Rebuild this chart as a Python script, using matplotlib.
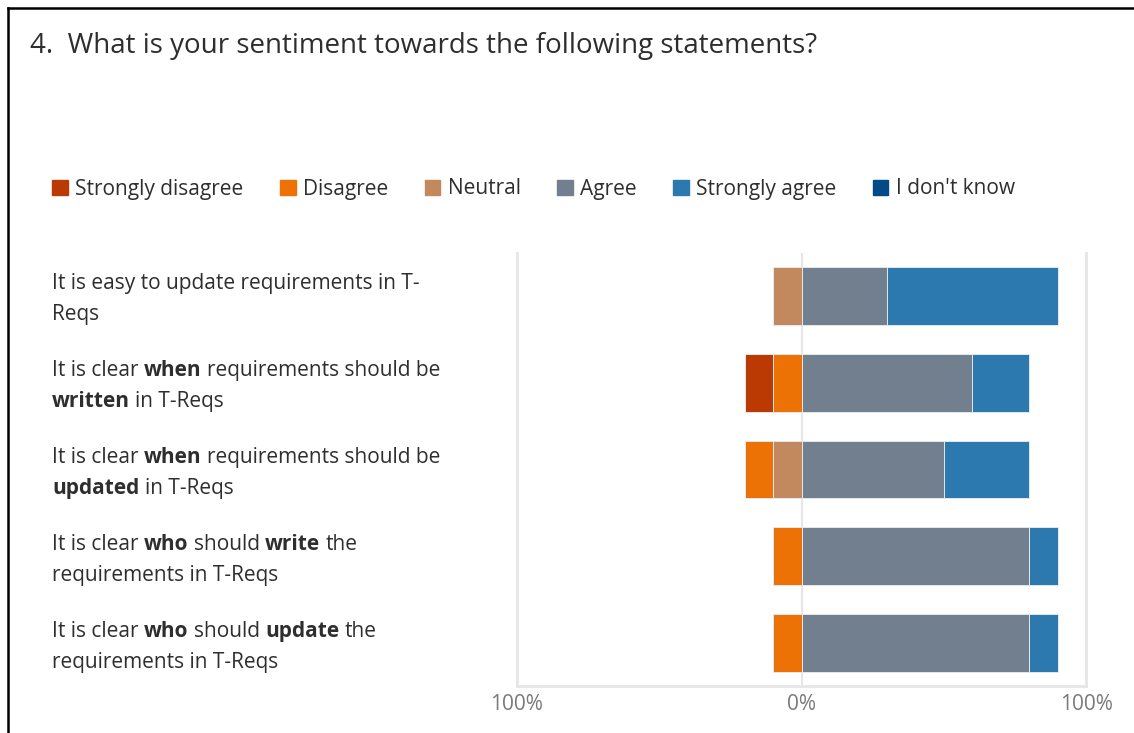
import numpy as np
import matplotlib.pyplot as plt
import matplotlib.transforms as mtransforms
from matplotlib.patches import Rectangle
from matplotlib.lines import Line2D

plt.rcParams['font.family'] = ['Open Sans', 'DejaVu Sans']

W, H = 1134, 733
TXT = '#2e2e2e'

categories = ['Strongly disagree', 'Disagree', 'Neutral', 'Agree',
              'Strongly agree', "I don't know"]
colors = ['#BB3A03', '#ED7205', '#C2895E', '#717F8E', '#2C79B0', '#044A87']

# share of answers per statement (%)
strongly_disagree = [0, 10, 0, 0, 0]
disagree = [0, 10, 10, 10, 10]
neutral = [10, 0, 10, 0, 0]
agree = [30, 60, 50, 80, 80]
strongly_agree = [60, 20, 30, 10, 10]
dont_know = [0, 0, 0, 0, 0]

# statement labels: two lines each, (text, bold) pieces
statements = [
    [[('It is easy to update requirements in T-', False)],
     [('Reqs', False)]],
    [[('It is clear ', False), ('when', True), (' requirements should be', False)],
     [('written', True), (' in T-Reqs', False)]],
    [[('It is clear ', False), ('when', True), (' requirements should be', False)],
     [('updated', True), (' in T-Reqs', False)]],
    [[('It is clear ', False), ('who', True), (' should ', False), ('write', True), (' the', False)],
     [('requirements in T-Reqs', False)]],
    [[('It is clear ', False), ('who', True), (' should ', False), ('update', True), (' the', False)],
     [('requirements in T-Reqs', False)]],
]

fig = plt.figure(figsize=(W / 100, H / 100), dpi=100)
ax = fig.add_axes([517 / W, 1 - 686 / H, (1086 - 517) / W, (686 - 253) / H])

y = np.arange(len(statements))
bar_h = 0.667


def draw(vals, left, color, sign):
    vals = np.asarray(vals, float)
    keep = vals > 0
    ax.barh(y[keep], sign * vals[keep], left=np.asarray(left, float)[keep], height=bar_h,
            color=color, edgecolor='#e4e8ee', linewidth=0.7, zorder=2)


zero = np.zeros(len(y))
# disagreeing side grows leftwards from 0, neutral closest to the axis
draw(neutral, zero, colors[2], -1)
draw(disagree, -np.array(neutral), colors[1], -1)
draw(strongly_disagree, -(np.array(neutral) + np.array(disagree)), colors[0], -1)
draw(agree, zero, colors[3], 1)
draw(strongly_agree, np.array(agree), colors[4], 1)
draw(dont_know, np.array(agree) + np.array(strongly_agree), colors[5], 1)

ax.set_xlim(-100, 100)
ax.set_ylim(len(y) - 0.51, -0.49)
ax.axvline(0, color='#e6e6e6', lw=1.5, zorder=1)
for side in ['left', 'right', 'bottom']:
    ax.spines[side].set_color('#e6e6e6')
    ax.spines[side].set_linewidth(2)
ax.spines['top'].set_visible(False)
ax.set_yticks([])
ax.set_xticks([-100, 0, 100])
ax.set_xticklabels(['100%', '0%', '100%'])
ax.tick_params(axis='x', length=0, pad=6, labelsize=15, labelcolor='#7a7a7a')

# title
fig.text(30 / W, 1 - 46 / H, '4.  What is your sentiment towards the following statements?',
         fontsize=20, color=TXT, va='center', ha='left')

# legend
handles = [Rectangle((0, 0), 1, 1, color=c) for c in colors]
fig.legend(handles, categories, loc='center left', bbox_to_anchor=(44 / W, 1 - 189 / H),
           ncol=6, frameon=False, fontsize=15, handlelength=0.75, handleheight=0.75,
           handletextpad=0.35, columnspacing=1.75, labelcolor=TXT, borderaxespad=0)

# statement labels with bold fragments
fs = 15
r = fig.canvas.get_renderer()
ident = mtransforms.IdentityTransform()


def text_w(s, bold):
    t = fig.text(0, 0, s, fontsize=fs, weight='bold' if bold else 'normal', transform=ident)
    w = t.get_window_extent(r).width
    t.remove()
    return w


space = text_w('a a', False) - text_w('aa', False)
line_gap = 31
for i, lines in enumerate(statements):
    yc = ax.transData.transform((0, i))[1] - 3.5
    for k, parts in enumerate(lines):
        yl = yc + line_gap / 2 - k * line_gap
        x = 52
        for s, bold in parts:
            core = s.strip(' ')
            lead = len(s) - len(s.lstrip(' '))
            trail = len(s) - len(s.rstrip(' '))
            x += lead * space
            fig.text(x, yl, core, fontsize=fs, weight='bold' if bold else 'normal',
                     color=TXT, va='center', ha='left', transform=ident)
            x += text_w(core, bold) + trail * space

# outer frame on the top and left edges
fig.add_artist(Line2D([8 / W, 8 / W], [0, 1 - 8 / H], color='black', lw=1.8))
fig.add_artist(Line2D([8 / W, 1], [1 - 8 / H, 1 - 8 / H], color='black', lw=1.8))

fig.savefig('out.png', dpi=100)
